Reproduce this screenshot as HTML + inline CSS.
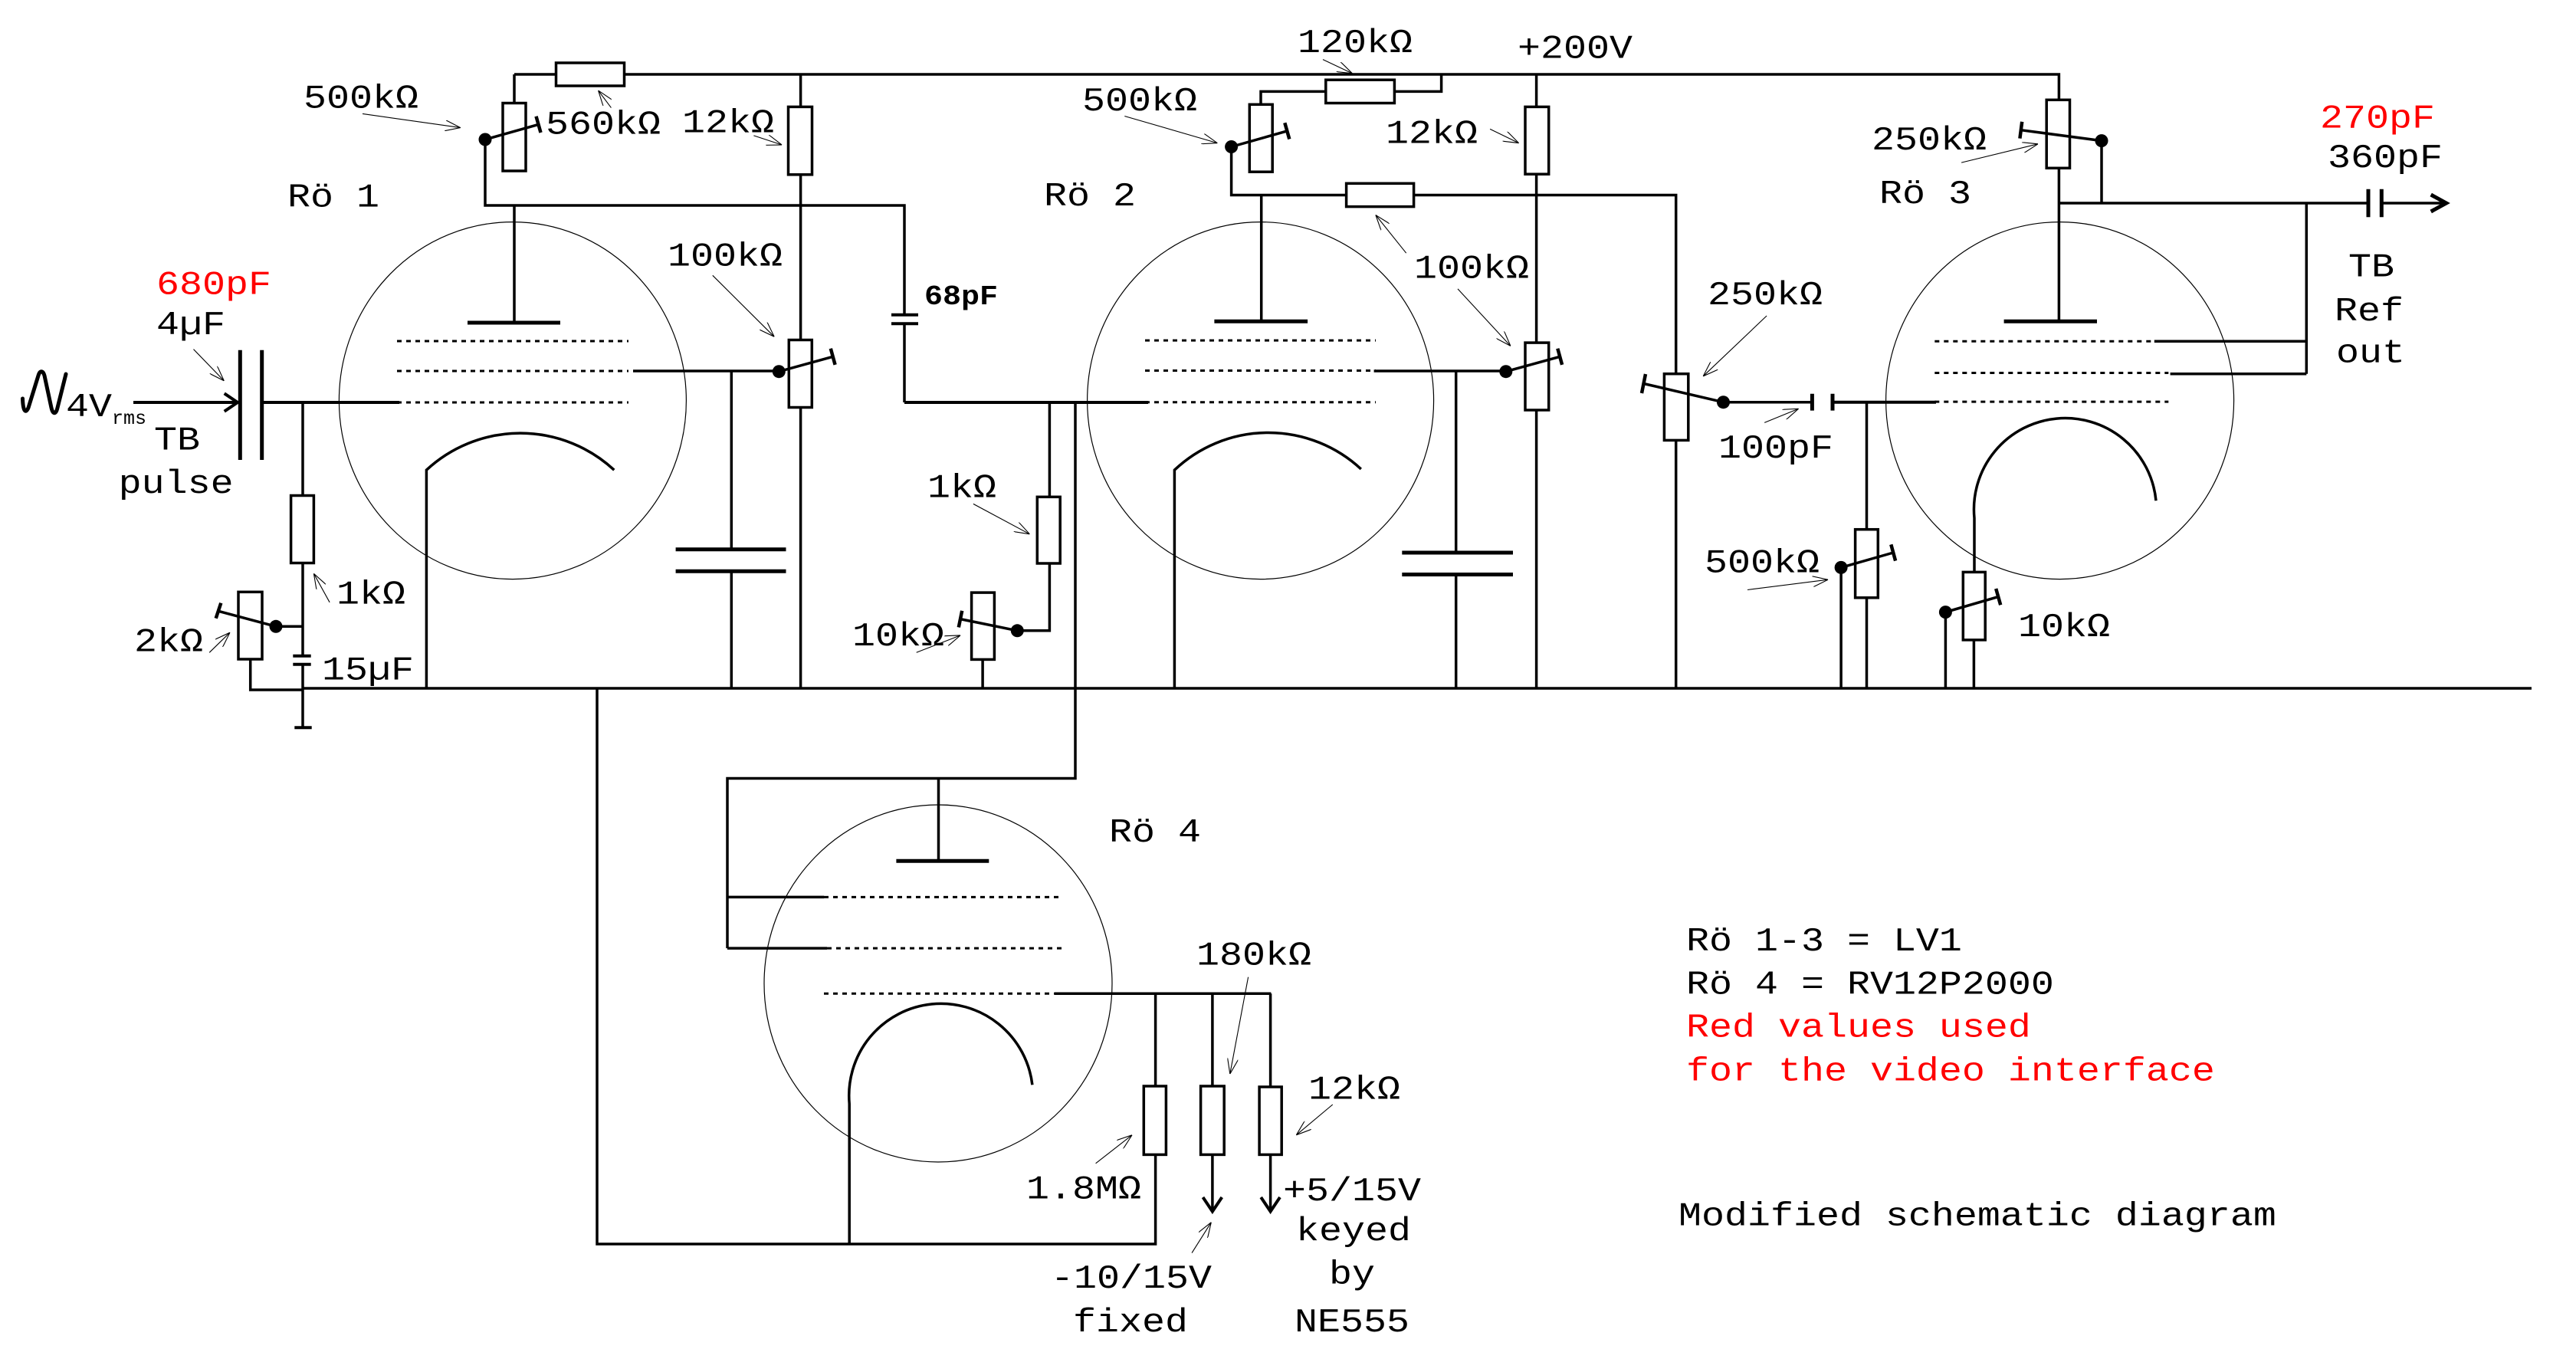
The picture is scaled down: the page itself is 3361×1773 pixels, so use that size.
<!DOCTYPE html>
<html>
<head>
<meta charset="utf-8">
<style>
html,body{margin:0;padding:0;background:#fff;}
svg{display:block;}
text{font-family:"Liberation Mono","DejaVu Sans Mono",monospace;font-size:50px;fill:#000;}
.r{fill:#ff0000;}
.w{fill:none;stroke:#000;stroke-width:3.5;}
.p{fill:none;stroke:#000;stroke-width:5;}
.g{fill:none;stroke:#000;stroke-width:4;}
.d{fill:none;stroke:#000;stroke-width:3;stroke-dasharray:6 6;}
.c{fill:none;stroke:#000;stroke-width:1.2;}
.b{fill:#fff;stroke:#000;stroke-width:3.5;}
.a{fill:none;stroke:#000;stroke-width:1.1;marker-end:url(#ah);}
.t{fill:none;stroke:#000;stroke-width:4.5;}
</style>
</head>
<body>
<svg width="3361" height="1773" viewBox="0 0 3361 1773" xmlns="http://www.w3.org/2000/svg">
<defs>
<marker id="ah" viewBox="0 0 20 14" refX="20" refY="7" markerWidth="20" markerHeight="14" markerUnits="userSpaceOnUse" orient="auto">
<path d="M0,0 L20,7 L0,14" fill="none" stroke="#000" stroke-width="1.1"/>
</marker>
</defs>
<rect x="0" y="0" width="3361" height="1773" fill="#fff"/>

<!-- ===== TOP SUPPLY WIRE ===== -->
<path class="w" d="M671,97 H726 M814,97 H2686.4 V130.3"/>
<rect class="b" x="725.5" y="82" width="89" height="30"/>
<!-- 120k path -->
<path class="w" d="M1880.6,97 V119.4 H1819.4 M1729.8,119.4 H1645 V136.3"/>
<rect class="b" x="1729.8" y="104.2" width="89.6" height="30.3"/>

<!-- ===== Rö 1 ===== -->
<path class="w" d="M671,97 V134.5"/>
<rect class="b" x="656" y="134.5" width="30" height="88.5"/>
<path class="w" d="M633,182 L702.5,162.4"/>
<path class="t" d="M699.5,151.8 L705.5,173"/>
<circle cx="633" cy="182" r="8.5" fill="#000"/>
<path class="w" d="M633,182 V268 H1180 V410.8"/>
<path class="g" d="M1163,410.8 H1198 M1163,422.3 H1198"/>
<path class="w" d="M1180,422.3 V525"/>
<path class="g" d="M1180,525 H1498"/>
<!-- anode 1 -->
<path class="w" d="M671,268 V421"/>
<path class="p" d="M610,421 H731"/>
<!-- grids 1 -->
<path class="d" d="M518,445 H820 M518,484 H820 M518,525 H820"/>
<path class="w" d="M826,484 H1016"/>
<path class="g" d="M342,525 H521"/>
<!-- 12k & 100k pot -->
<path class="w" d="M1044.6,97 V139.4 M1044.6,227.8 V443.5 M1044.6,531.4 V898"/>
<rect class="b" x="1028.5" y="139.4" width="31" height="88.4"/>
<rect class="b" x="1029.3" y="443.5" width="30" height="88"/>
<path class="w" d="M1016.3,484.7 L1086.7,465.3"/>
<path class="t" d="M1083.8,454.7 L1089.6,475.9"/>
<circle cx="1016.3" cy="484.7" r="8.5" fill="#000"/>
<!-- screen cap 1 -->
<path class="w" d="M954.3,484 V716.8 M954.3,745.3 V898"/>
<path class="p" d="M881.6,716.8 H1025.5 M881.6,745.3 H1025.5"/>
<!-- cathode 1 -->
<path class="w" d="M556.4,898 V613.2 A180,180 0 0 1 801.3,613.2"/>
<ellipse class="c" cx="668.9" cy="522.6" rx="226.5" ry="233"/>

<!-- ===== INPUT ===== -->
<path d="M29.5,520 C30,535 33,541 37,532 L50,490 C52,483 56,483 58,490 L67,532 C69,541 73,541 75,532 L86,488" fill="none" stroke="#000" stroke-width="5" stroke-linecap="round"/>
<path class="g" d="M174,525 H309"/>
<path class="g" d="M292.7,513.3 L310,525 L292.7,536.7"/>
<path class="p" d="M313.3,456.7 V600 M341.7,456.7 V600"/>
<path class="w" d="M395,525 V646.5 M395,734.4 V855.7 M395,866.7 V949.3"/>
<rect class="b" x="379.6" y="646.5" width="29.8" height="88"/>
<path class="g" d="M382.3,855.7 H405.7 M382.3,866.7 H405.7 M384.3,949.3 H406.7"/>
<path class="w" d="M360,817.3 H395"/>
<rect class="b" x="311" y="772.3" width="31" height="87.7"/>
<path class="w" d="M360,817.3 L285,797.3"/>
<path class="t" d="M281.7,806.7 L288.3,786.7"/>
<circle cx="360" cy="817.3" r="8.5" fill="#000"/>
<path class="w" d="M326.7,860 V900 H395"/>

<!-- ===== GROUND BUS ===== -->
<path class="w" d="M395,898 H3303"/>

<!-- ===== Rö 2 ===== -->
<rect class="b" x="1630.3" y="136.3" width="29.9" height="87.9"/>
<path class="w" d="M1606.6,191.5 L1679.3,170.9"/>
<path class="t" d="M1676.3,160.3 L1682.3,181.5"/>
<circle cx="1606.6" cy="191.5" r="8.5" fill="#000"/>
<path class="w" d="M1606.6,191.5 V254.5 H1756.6 M1844.6,254.5 H2186.7 V487.7 M2186.7,574.4 V898"/>
<rect class="b" x="1756.6" y="239.3" width="88" height="30.3"/>
<path class="w" d="M1645.7,254.5 V419.3"/>
<path class="p" d="M1584.4,419.3 H1706.1"/>
<path class="d" d="M1494,444.1 H1795 M1494,483.5 H1795 M1494,524.7 H1795"/>
<path class="w" d="M1792.6,484 H1964.8"/>
<path class="w" d="M1899.7,484 V721 M1899.7,749.5 V898"/>
<path class="p" d="M1829.3,721 H1974 M1829.3,749.5 H1974"/>
<path class="w" d="M2004.6,97 V139.4 M2004.6,227.2 V447.1 M2004.6,535 V898"/>
<rect class="b" x="1990" y="139.4" width="30.7" height="87.8"/>
<rect class="b" x="1990" y="447.1" width="30.7" height="87.9"/>
<path class="w" d="M1964.8,484.7 L2035.2,465.3"/>
<path class="t" d="M2032.3,454.7 L2038.1,475.9"/>
<circle cx="1964.8" cy="484.7" r="8.5" fill="#000"/>
<ellipse class="c" cx="1644.6" cy="522.6" rx="226" ry="233"/>
<path class="w" d="M1532.4,898 V613.2 A178,178 0 0 1 1775.8,612"/>
<!-- grid bias 2 -->
<path class="w" d="M1369.4,524.7 V648.3 M1369.4,735 V822.8 H1327.3"/>
<rect class="b" x="1353.3" y="648.3" width="29.9" height="86.7"/>
<rect class="b" x="1267.6" y="773.1" width="29.8" height="87.3"/>
<path class="w" d="M1327.3,822.8 L1253,807.6"/>
<path class="t" d="M1255.2,796.8 L1250.8,818.4"/>
<circle cx="1327.3" cy="822.8" r="8.5" fill="#000"/>
<path class="w" d="M1282.1,860.4 V898"/>
<!-- line to Rö4 anode -->
<path class="w" d="M1403,524.7 V1015.5 H949 V1237.1"/>

<!-- ===== Rö 4 ===== -->
<path class="w" d="M1224.5,1015.5 V1123.2"/>
<path class="p" d="M1169.4,1123.2 H1290.3"/>
<path class="w" d="M949,1170.4 H1075.2 M949,1237.1 H1079"/>
<path class="d" d="M1075,1170.4 H1385 M1079,1237.1 H1385 M1075,1296.3 H1385"/>
<path class="w" d="M1376,1296.3 H1658.4"/>
<path class="w" d="M1507.6,1296.3 V1417 M1507.6,1506.4 V1623 H779 V898"/>
<rect class="b" x="1492.3" y="1417" width="29.1" height="89.4"/>
<path class="w" d="M1581.9,1296.3 V1417 M1581.9,1506.4 V1578"/>
<rect class="b" x="1566.6" y="1417" width="30.6" height="89.4"/>
<path class="g" d="M1569.5,1562 L1581.9,1580.5 L1594.3,1562"/>
<path class="w" d="M1657.6,1296.3 V1418 M1657.6,1506.4 V1578"/>
<rect class="b" x="1643.1" y="1418" width="29.1" height="88.4"/>
<path class="g" d="M1645.2,1562 L1657.6,1580.5 L1670,1562"/>
<ellipse class="c" cx="1224" cy="1283" rx="227" ry="233"/>
<path class="w" d="M1108.2,1623 V1440 A120,120 0 0 1 1346.9,1415.3"/>

<!-- ===== Rö 3 ===== -->
<rect class="b" x="2171.4" y="487.7" width="31.4" height="86.7"/>
<path class="w" d="M2248.5,524.7 L2144.6,500.5"/>
<path class="t" d="M2147,488 L2142,513"/>
<circle cx="2248.5" cy="524.7" r="8.5" fill="#000"/>
<path class="w" d="M2248.5,524.7 H2364.4"/>
<path class="p" d="M2364.4,513.8 V535.6 M2391,513.8 V535.6"/>
<path class="g" d="M2391,524.7 H2526"/>
<path class="w" d="M2435.5,524.7 V690.7 M2435.5,779.8 V898"/>
<rect class="b" x="2420.6" y="690.7" width="29.7" height="89.1"/>
<path class="w" d="M2402.1,740.4 L2470.2,721"/>
<path class="t" d="M2467.3,710.4 L2473.1,731.6"/>
<circle cx="2402.1" cy="740.4" r="8.5" fill="#000"/>
<path class="w" d="M2402.1,740.4 V898"/>
<path class="d" d="M2524.3,445.3 H2829.3 M2524.3,486.5 H2829.3 M2524.3,524.1 H2829.3"/>
<path class="w" d="M2810.8,445.3 H3009.3 M2831.6,487.7 H3009.3 M3009.3,264.8 V487.7"/>
<rect class="b" x="2670.2" y="130.3" width="30.3" height="89"/>
<path class="w" d="M2686.4,219.3 V419.3"/>
<path class="p" d="M2614.6,419.3 H2736"/>
<path class="w" d="M2742,183.6 L2636.8,169.7"/>
<path class="t" d="M2638.2,158.8 L2635.4,180.6"/>
<circle cx="2742" cy="183.6" r="8.5" fill="#000"/>
<path class="w" d="M2742,183.6 V265 M2686.4,265 H3090 M3107.3,265 H3189"/>
<path class="p" d="M3090,246.7 V283.3 M3107.3,246.7 V283.3"/>
<path class="p" d="M3171.7,254 L3191.7,265 L3171.7,276"/>
<ellipse class="c" cx="2687.6" cy="522.6" rx="227" ry="233"/>
<path class="w" d="M2576,746.4 V676 A118.5,118.5 0 0 1 2813,653.2"/>
<rect class="b" x="2561.3" y="746.4" width="28.9" height="88.5"/>
<path class="w" d="M2575.4,834.9 V898"/>
<path class="w" d="M2538.4,798.6 L2607.2,778.6"/>
<path class="t" d="M2604.2,768 L2610.2,789.2"/>
<circle cx="2538.4" cy="798.6" r="8.5" fill="#000"/>
<path class="w" d="M2538.4,798.6 V898"/>

<!-- ===== LABEL ARROWS ===== -->
<path class="a" d="M473,148.4 L600.8,166.6"/>
<path class="a" d="M797.4,140.6 L780.6,118.1"/>
<path class="a" d="M983.4,176.9 L1020.1,189"/>
<path class="a" d="M929.8,359.3 L1010.2,439.3"/>
<path class="a" d="M252.5,455.6 L292.3,496.8"/>
<path class="a" d="M430.1,785.8 L409.4,748.3"/>
<path class="a" d="M273.2,851.3 L300,825.2"/>
<path class="a" d="M1726,77.6 L1764.3,95.7"/>
<path class="a" d="M1467.3,151.5 L1588.3,186.6"/>
<path class="a" d="M1944.1,168.4 L1981.6,186.6"/>
<path class="a" d="M1834.7,330.2 L1794.9,280.5"/>
<path class="a" d="M1902,376.9 L1970.9,451.4"/>
<path class="a" d="M1269.9,657.4 L1343.4,696.8"/>
<path class="a" d="M1195.7,851.3 L1253.1,828.9"/>
<path class="a" d="M2559.1,212.1 L2659,187.8"/>
<path class="a" d="M2305.1,412 L2222.2,490.8"/>
<path class="a" d="M2302.2,551.4 L2346.6,533.2"/>
<path class="a" d="M2280,769.5 L2385.1,756.2"/>
<path class="a" d="M1628.6,1274.7 L1604.8,1401.1"/>
<path class="a" d="M1738.8,1441 L1691.3,1480.8"/>
<path class="a" d="M1429.6,1517.8 L1477,1480.8"/>
<path class="a" d="M1555.1,1634.6 L1580.3,1594.7"/>

<!-- ===== TEXT ===== -->
<text transform="translate(396,140.6) scale(1,0.88)">500kΩ</text>
<text transform="translate(712,174.5) scale(1,0.88)">560kΩ</text>
<text transform="translate(890,172.7) scale(1,0.88)">12kΩ</text>
<text transform="translate(375,269.6) scale(1,0.88)">Rö 1</text>
<text transform="translate(871,346.6) scale(1,0.88)">100kΩ</text>
<text class="r" transform="translate(204,383.5) scale(1,0.88)">680pF</text>
<text transform="translate(204,436) scale(1,0.88)">4µF</text>
<text transform="translate(86,543) scale(1,0.88)">4V</text>
<text transform="translate(146,553)" style="font-size:25px">rms</text>
<text transform="translate(231,586.7) scale(1,0.88)" text-anchor="middle">TB</text>
<text transform="translate(229.6,643) scale(1,0.88)" text-anchor="middle">pulse</text>
<text transform="translate(439,787.7) scale(1,0.88)">1kΩ</text>
<text transform="translate(175,849.5) scale(1,0.88)">2kΩ</text>
<text transform="translate(420,886.7) scale(1,0.88)">15µF</text>

<text transform="translate(1693,67.9) scale(1,0.88)">120kΩ</text>
<text transform="translate(1980,75.7) scale(1,0.88)">+200V</text>
<text transform="translate(1412,144.2) scale(1,0.88)">500kΩ</text>
<text transform="translate(1808,186.6) scale(1,0.88)">12kΩ</text>
<text transform="translate(1362,267.8) scale(1,0.88)">Rö 2</text>
<text transform="translate(1845,362.3) scale(1,0.88)">100kΩ</text>
<text transform="translate(1206,396.9) scale(1,0.9)" style="font-size:40px;font-weight:bold">68pF</text>
<text transform="translate(1210,648.3) scale(1,0.88)">1kΩ</text>
<text transform="translate(1112,842.2) scale(1,0.88)">10kΩ</text>

<text transform="translate(2442,195.1) scale(1,0.88)">250kΩ</text>
<text transform="translate(2452,264.8) scale(1,0.88)">Rö 3</text>
<text class="r" transform="translate(3027,166.6) scale(1,0.88)">270pF</text>
<text transform="translate(3037,218.1) scale(1,0.88)">360pF</text>
<text transform="translate(3094,360.5) scale(1,0.88)" text-anchor="middle">TB</text>
<text transform="translate(3091,418) scale(1,0.88)" text-anchor="middle">Ref</text>
<text transform="translate(3093,472.6) scale(1,0.88)" text-anchor="middle">out</text>
<text transform="translate(2228,396.9) scale(1,0.88)">250kΩ</text>
<text transform="translate(2242,596.8) scale(1,0.88)">100pF</text>
<text transform="translate(2224,746.5) scale(1,0.88)">500kΩ</text>
<text transform="translate(2633,830.1) scale(1,0.88)">10kΩ</text>

<text transform="translate(1447,1098.1) scale(1,0.88)">Rö 4</text>
<text transform="translate(1561,1258.7) scale(1,0.88)">180kΩ</text>
<text transform="translate(1707,1433.5) scale(1,0.88)">12kΩ</text>
<text transform="translate(1339,1563.4) scale(1,0.88)">1.8MΩ</text>
<text transform="translate(1674,1566.2) scale(1,0.88)">+5/15V</text>
<text transform="translate(1766,1618) scale(1,0.88)" text-anchor="middle">keyed</text>
<text transform="translate(1764,1674.5) scale(1,0.88)" text-anchor="middle">by</text>
<text transform="translate(1764,1737) scale(1,0.88)" text-anchor="middle">NE555</text>
<text transform="translate(1476,1680) scale(1,0.88)" text-anchor="middle">-10/15V</text>
<text transform="translate(1475,1737) scale(1,0.88)" text-anchor="middle">fixed</text>

<text transform="translate(2200,1240) scale(1,0.88)">Rö 1-3 = LV1</text>
<text transform="translate(2200,1296.7) scale(1,0.88)">Rö 4 = RV12P2000</text>
<text class="r" transform="translate(2200,1352.7) scale(1,0.88)">Red values used</text>
<text class="r" transform="translate(2200,1409.3) scale(1,0.88)">for the video interface</text>
<text transform="translate(2190,1598.3) scale(1,0.88)">Modified schematic diagram</text>
</svg>
</body>
</html>
